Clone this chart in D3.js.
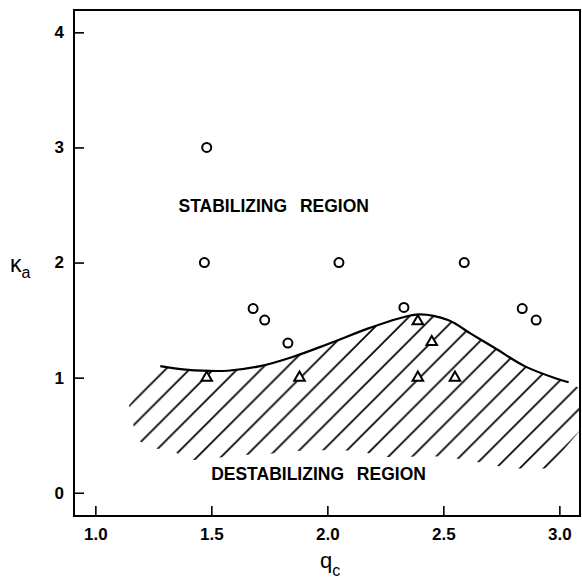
<!DOCTYPE html>
<html>
<head>
<meta charset="utf-8">
<script src="https://cdn.jsdelivr.net/npm/d3@7"></script>
<style>
  body { margin: 0; background: #fff; }
  svg text { font-family: "Liberation Sans", Arial, sans-serif; fill: #000; }
</style>
</head>
<body>
<div class="graph"></div>
<script>
const margin = { left: 74, top: 10, right: 2, bottom: 64 };
const width = 582;
const height = 580;
const innerW = width - margin.left - margin.right;
const innerH = height - margin.top - margin.bottom;

// stabilizing points (circles)
const circleQ = [1.48, 1.47, 2.05, 2.59, 1.68, 1.73, 1.83, 2.33, 2.84, 2.90];
const circleK = [3.0, 2.0, 2.0, 2.0, 1.6, 1.5, 1.3, 1.61, 1.6, 1.5];

// destabilizing points (triangles)
const triQ = [1.48, 1.88, 2.39, 2.45, 2.39, 2.55];
const triK = [1.0, 1.0, 1.49, 1.31, 1.0, 1.0];

// boundary curve
const curveQ = [1.28, 1.39, 1.57, 1.71, 1.85, 2.00, 2.18, 2.30, 2.40, 2.52, 2.62, 2.72, 2.85, 2.99, 3.04];
const curveK = [1.10, 1.07, 1.06, 1.10, 1.18, 1.29, 1.43, 1.51, 1.55, 1.50, 1.38, 1.26, 1.10, 0.99, 0.96];

// lower / right edge of the hatched area (right to left)
const hatchQ = [3.085, 3.085, 2.95, 2.83, 2.74, 2.64, 2.55, 2.45, 2.33, 2.23, 2.15, 2.06, 1.95, 1.84, 1.72, 1.63, 1.51, 1.40, 1.34, 1.24, 1.18, 1.16, 1.145];
const hatchK = [0.91, 0.53, 0.21, 0.21, 0.23, 0.27, 0.30, 0.32, 0.31, 0.31, 0.36, 0.37, 0.37, 0.36, 0.33, 0.33, 0.30, 0.28, 0.36, 0.39, 0.46, 0.62, 0.76];

const xTicks = [1.0, 1.5, 2.0, 2.5, 3.0];
const yTicks = [0, 1, 2, 3, 4];

const x = d3.scaleLinear().domain([0.908, 3.089]).range([0, innerW]);
const y = d3.scaleLinear().domain([-0.202, 4.194]).range([innerH, 0]);

const svg = d3.select('.graph').append('svg')
  .attr('width', width)
  .attr('height', height);

// hatch pattern, 45 degree lines
const step = 23.85;
const defs = svg.append('defs');
const pat = defs.append('pattern')
  .attr('id', 'hatch')
  .attr('patternUnits', 'userSpaceOnUse')
  .attr('x', 10.3 - margin.left - margin.top)
  .attr('y', 0)
  .attr('width', step)
  .attr('height', step);
pat.append('path')
  .attr('d', `M0,${step} L${step},0 M-3,3 L3,-3 M${step - 3},${step + 3} L${step + 3},${step - 3}`)
  .attr('stroke', '#000')
  .attr('stroke-width', 1.7);

const g = svg.append('g')
  .attr('transform', `translate(${margin.left},${margin.top})`);

const curvePts = curveQ.map((q, i) => [x(q), y(curveK[i])]);
const lineGen = d3.line().curve(d3.curveCatmullRom);

let hatchPath = lineGen(curvePts);
hatchQ.forEach((q, i) => { hatchPath += `L${x(q)},${y(hatchK[i])}`; });
hatchPath += 'Z';

g.append('path')
  .attr('d', hatchPath)
  .attr('fill', 'url(#hatch)')
  .attr('stroke', 'none');

g.append('path')
  .attr('d', lineGen(curvePts))
  .attr('fill', 'none')
  .attr('stroke', '#000')
  .attr('stroke-width', 2.2);

// frame
g.append('rect')
  .attr('x', 0).attr('y', 0)
  .attr('width', innerW).attr('height', innerH)
  .attr('fill', 'none')
  .attr('stroke', '#000')
  .attr('stroke-width', 2);

// axes
const yAxis = g.append('g')
  .call(d3.axisLeft(y).tickValues(yTicks).tickSize(-10).tickPadding(10).tickFormat(d3.format('d')));
const xAxis = g.append('g')
  .attr('transform', `translate(0,${innerH})`)
  .call(d3.axisBottom(x).tickValues(xTicks).tickSize(-10).tickPadding(12).tickFormat(d3.format('.1f')));
[xAxis, yAxis].forEach(a => {
  a.select('.domain').remove();
  a.selectAll('line').attr('stroke', '#000').attr('stroke-width', 1.6);
  a.selectAll('text')
    .attr('font-family', '"Liberation Sans", Arial, sans-serif')
    .attr('font-size', 17)
    .attr('font-weight', 'bold')
    .attr('fill', '#000');
});

// markers
g.selectAll('circle.stab')
  .data(circleQ)
  .enter().append('circle')
  .attr('class', 'stab')
  .attr('cx', d => x(d))
  .attr('cy', (d, i) => y(circleK[i]))
  .attr('r', 4.5)
  .attr('fill', '#fff')
  .attr('stroke', '#000')
  .attr('stroke-width', 2);

const tri = d3.symbol().type(d3.symbolTriangle).size(48);
g.selectAll('path.destab')
  .data(triQ)
  .enter().append('path')
  .attr('class', 'destab')
  .attr('d', tri)
  .attr('transform', (d, i) => `translate(${x(d)},${y(triK[i])})`)
  .attr('fill', '#fff')
  .attr('stroke', '#000')
  .attr('stroke-width', 2);

// region labels
g.append('text')
  .attr('x', x(1.769)).attr('y', y(2.44))
  .attr('text-anchor', 'middle')
  .attr('font-size', 17.5).attr('font-weight', 'bold')
  .attr('word-spacing', 8)
  .text('STABILIZING REGION');

g.append('text')
  .attr('x', x(1.962)).attr('y', y(0.11))
  .attr('text-anchor', 'middle')
  .attr('font-size', 17.5).attr('font-weight', 'bold')
  .attr('word-spacing', 8)
  .text('DESTABILIZING REGION');

// axis titles
const yl = svg.append('text').attr('x', 10).attr('y', 272);
yl.append('tspan').attr('font-size', 23).text('κ');
yl.append('tspan').attr('font-size', 16).attr('dy', 6).text('a');

const xl = svg.append('text').attr('x', 320).attr('y', 568);
xl.append('tspan').attr('font-size', 22).text('q');
xl.append('tspan').attr('font-size', 16).attr('dy', 8).text('c');
</script>
</body>
</html>
